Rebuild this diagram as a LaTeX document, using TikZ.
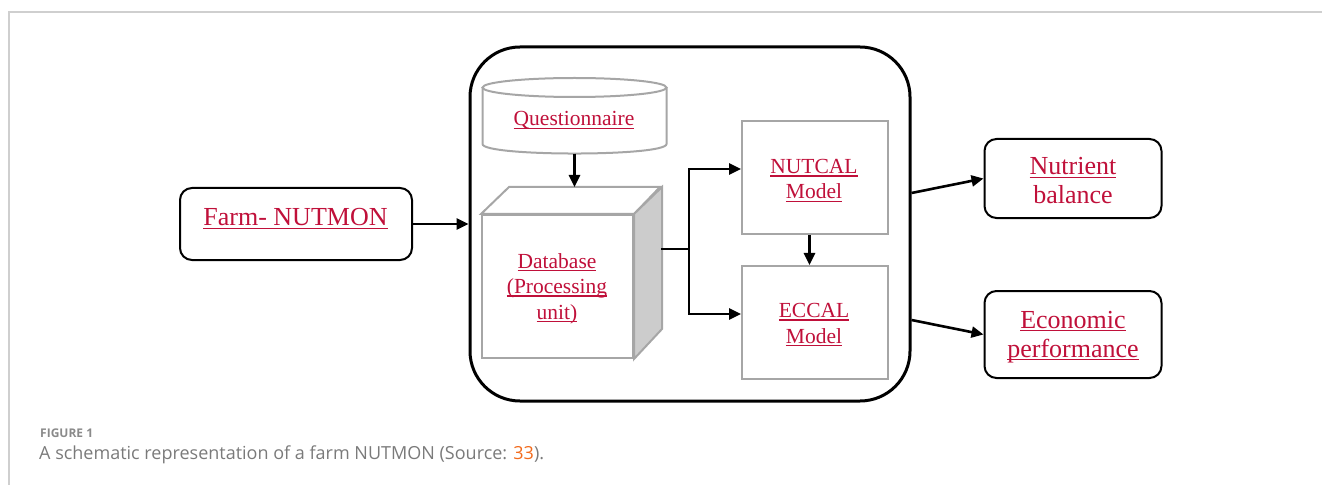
\documentclass[tikz,border=0pt]{standalone}
\usepackage{fontspec}
\setmainfont{Liberation Serif}
\newfontfamily\capfont{Open Sans}
\usetikzlibrary{arrows.meta,calc}
\definecolor{lred}{HTML}{C0103A}
\definecolor{bgray}{HTML}{A6A6A6}
\definecolor{sgray}{HTML}{CCCCCC}
\definecolor{capgray}{HTML}{7A7A7A}
\definecolor{figgray}{HTML}{8A8A8A}
\definecolor{corange}{HTML}{F26B1D}
\definecolor{framegray}{HTML}{CFCFCF}
\newsavebox\ulredbox
\newcommand\ulred[1]{\leavevmode\sbox\ulredbox{#1}\rlap{\rule[-3.3bp]{\wd\ulredbox}{1.4bp}}\usebox\ulredbox}
\begin{document}
\begin{tikzpicture}[x=1bp,y=-1bp,
  outbox/.style={draw=black,line width=2bp,rounded corners=12bp,inner sep=0pt,fill=white},
  graybox/.style={draw=bgray,line width=2bp,inner sep=0pt,fill=white},
  ghost/.style={inner sep=0pt},
  txtin/.style={text=lred,align=center,anchor=base,inner sep=0pt,font=\fontsize{21.5bp}{25.5bp}\selectfont},
  txtout/.style={text=lred,align=center,anchor=base,inner sep=0pt,font=\fontsize{26bp}{29bp}\selectfont},
  conn/.style={line width=2.6bp,black},
  arr/.style={conn,-{Triangle[length=12bp,width=11bp]}}
]
\useasboundingbox (0,0) rectangle (1322,485);
% frame
\draw[framegray,line width=1.2bp] (9,485) -- (9,12) -- (1322,12);

% outer container
\node[draw=black,line width=3bp,rounded corners=50bp,minimum width=440bp,minimum height=354bp,inner sep=0pt] (outer) at (690,224) {};

% farm
\node[outbox,minimum width=232bp,minimum height=72bp] (farm) at (296,224) {};
\node[txtout] (farmt) at (295.5,226) {\ulred{Farm- NUTMON}};

% questionnaire cylinder
\node[ghost,minimum width=184bp,minimum height=76bp] (quest) at (574.5,115.5) {};
\draw[bgray,line width=2bp,fill=white] (482.5,87.5) -- (482.5,144)
  .. controls (482.5,156.7) and (666.5,156.7) .. (666.5,144) -- (666.5,87.5);
\draw[bgray,line width=2bp,fill=white] (574.5,87.5) ellipse [x radius=92, y radius=9.5];
\node[txtin] (questt) at (574,126) {\ulred{Questionnaire}};

% database cube
\node[graybox,minimum width=151bp,minimum height=143bp] (dbfront) at (557.5,286.5) {};
\draw[bgray,line width=2bp,fill=white,line join=miter] (dbfront.north west) -- ++(28,-27) -- ++(151,0) -- (dbfront.north east) -- cycle;
\draw[bgray,line width=2bp,fill=sgray,line join=miter] (dbfront.north east) -- ++(28,-27) -- ++(0,142) -- (dbfront.south east) -- cycle;
\coordinate (cubeback) at ($(dbfront.north west)+(28,-27)$);
\coordinate (cubeside) at (661,249);
\node[txtin] (dbt) at (557,319) {\ulred{Database}\\\ulred{(Processing}\\\ulred{unit)}};

% models
\node[graybox,minimum width=146bp,minimum height=113bp] (nut) at (815,177.5) {};
\node[txtin] (nutt) at (814,199) {\ulred{NUTCAL}\\\ulred{Model}};
\node[graybox,minimum width=146bp,minimum height=113bp] (ecc) at (815,322.5) {};
\node[txtin] (ecct) at (814,343) {\ulred{ECCAL}\\\ulred{Model}};

% outputs
\node[outbox,minimum width=177bp,minimum height=79bp] (nb) at (1073,178.5) {};
\node[txtout] (nbt) at (1073,204) {\ulred{Nutrient}\\balance};
\node[outbox,minimum width=177bp,minimum height=87bp] (eb) at (1073,334.5) {};
\node[txtout] (ebt) at (1073,357) {\ulred{Economic}\\\ulred{performance}};

% connectors
\draw[arr] (farm.east) -- (outer.west);
\draw[arr] (quest.south) -- (quest.south |- cubeback);
\coordinate (junc) at (689,249);
\draw[conn] (cubeside) -- (junc);
\draw[arr] (junc) |- ([yshift=8.5bp]nut.west);
\draw[arr] (junc) |- ([yshift=8.5bp]ecc.west);
\draw[arr] ([xshift=-5.5bp]nut.south) -- ([xshift=-5.5bp]ecc.north);
\draw[arr] ([yshift=31bp]outer.east) -- (nb.west);
\draw[arr] ([yshift=-96bp]outer.east) -- (eb.west);

% caption
\node[anchor=base west,inner sep=0pt,text=figgray,font=\capfont\bfseries\fontsize{12bp}{14bp}\selectfont] (fig) at (40,437) {FIGURE 1};
\node[anchor=base west,inner sep=0pt,text=capgray,font=\capfont\fontsize{18bp}{20bp}\selectfont] (cap) at (39,459.5) {A schematic representation of a farm NUTMON (Source: \textcolor{corange}{33}).};
\end{tikzpicture}
\end{document}
